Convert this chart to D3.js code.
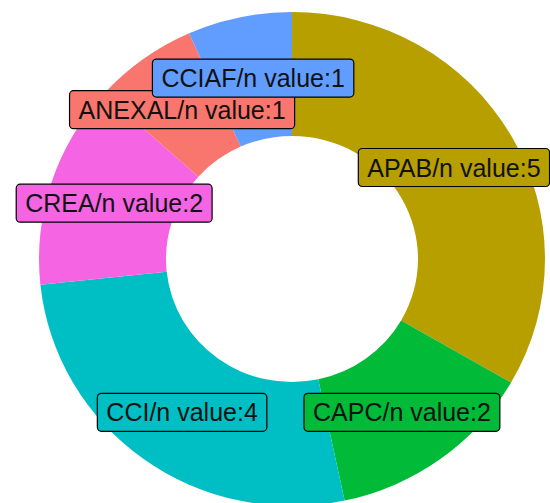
<!DOCTYPE html>
<html>
<head>
<meta charset="utf-8">
<script src="https://cdn.jsdelivr.net/npm/d3@7"></script>
<style>
  body { margin: 0; background: #fff; }
  svg { display: block; }
</style>
</head>
<body>
<div id="chart"></div>
<script>
var width = 550;
var height = 503;

// data, in the order the slices run clockwise from 12 o'clock
var categories = ["APAB", "CAPC", "CCI", "CREA", "ANEXAL", "CCIAF"];
var values = [5, 2, 4, 2, 1, 1];
var colors = ["#B79F00", "#00BA38", "#00BFC4", "#F564E3", "#F8766D", "#619CFF"];

var cx = 292, cy = 259;
var outerR = 253, innerR = 126;
var labelR = 187;

var canvas = d3.select("#chart")
  .append("svg")
  .attr("width", width)
  .attr("height", height);

var datos = categories.map(function(c, i) {
  return { cat: c, value: values[i], color: colors[i] };
});

var pie = d3.pie().sort(null).value(function(d) { return d.value; });
var arcs = pie(datos);

var arco = d3.arc().innerRadius(innerR).outerRadius(outerR);
var arcoLabel = d3.arc().innerRadius(labelR).outerRadius(labelR);

// slightly squashed vertically, as in the picture
var grupo_arcos = canvas.append("g")
  .attr("transform", "translate(" + cx + "," + cy + ") scale(1," + (247 / 253) + ")");

grupo_arcos.selectAll("path")
  .data(arcs)
  .enter()
  .append("path")
  .attr("d", arco)
  .attr("fill", function(d) { return d.data.color; });

// etiquetas
var grupo_labels = canvas.append("g")
  .attr("transform", "translate(" + cx + "," + (cy + 2) + ")");

arcs.forEach(function(d) {
  var p = arcoLabel.centroid(d);
  var g = grupo_labels.append("g").attr("transform", "translate(" + p[0] + "," + p[1] + ")");
  var rect = g.append("rect");
  var t = g.append("text")
    .attr("text-anchor", "middle")
    .attr("dy", "0.36em")
    .attr("font-family", "Liberation Sans, Arial, sans-serif")
    .attr("font-size", 25)
    .attr("fill", "#111")
    .text(d.data.cat + "/n value:" + d.data.value);
  var w = t.node().getComputedTextLength() + 18;
  var h = 38;
  rect.attr("x", -w / 2)
    .attr("y", -h / 2)
    .attr("width", w)
    .attr("height", h)
    .attr("rx", 4)
    .attr("fill", d.data.color)
    .attr("stroke", "#000")
    .attr("stroke-width", 1.2);
});
</script>
</body>
</html>
